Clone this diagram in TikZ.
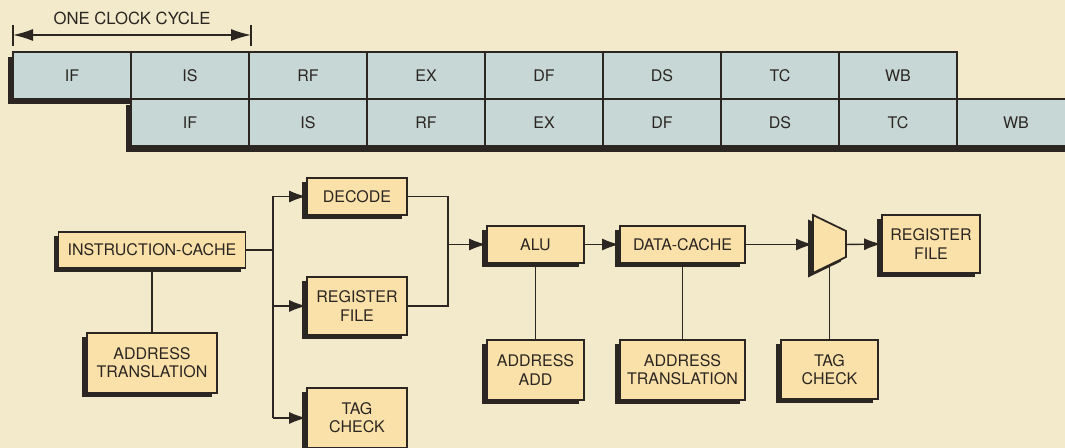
\documentclass[tikz,border=0pt]{standalone}
\usepackage{fontspec}
\setmainfont{TeX Gyre Heros}
\usetikzlibrary{arrows.meta,shadows}
\definecolor{paper}{HTML}{F2EACB}
\definecolor{stagefill}{HTML}{C6D7D6}
\definecolor{boxfill}{HTML}{FAE1AA}
\definecolor{ink}{HTML}{2B2622}
\tikzset{
  >={Latex[length=3.4mm,width=2.4mm]},
  lbl/.style={font=\fontsize{9.1}{10.4}\selectfont, text=ink},
  stage/.style={lbl, draw=ink, fill=stagefill, line width=0.8pt,
                minimum width=2.36cm, minimum height=0.94cm, inner sep=0pt},
  unit/.style={lbl, draw=ink, fill=boxfill, line width=1pt, align=center, inner sep=0pt,
               drop shadow={shadow xshift=-1mm, shadow yshift=-0.9mm, fill=ink, opacity=1}},
  link/.style={draw=ink, line width=0.8pt},
}

\begin{document}
\begin{tikzpicture}[line join=miter]

\useasboundingbox (0,0) rectangle (21.3,8.96);
\clip (0,0) rectangle (21.3,8.96);
\fill[paper] (0,0) rectangle (21.3,8.96);

% ===================== PIPELINE =====================
\node[lbl, font=\fontsize{9.5}{11}\selectfont] (cyc) at (2.64,8.60) {ONE CLOCK CYCLE};
\coordinate (cc0) at (0.26,8.26);
\coordinate (cc1) at (5.02,8.26);
\draw[link] (0.26,8.04) -- (0.26,8.46);
\draw[link] (5.02,8.04) -- (5.02,8.46);
\draw[link, {Latex[length=4mm,width=2.4mm]}-{Latex[length=4mm,width=2.4mm]}] (cc0) -- (cc1);

% ---- row shadows first, cells on top ----
\fill[ink] (0.17,7.81) rectangle (19.05,6.87);
\foreach \st [count=\i from 0] in {IF,IS,RF,EX,DF,DS,TC,WB}
  \node[stage] (a\i) at (1.44+2.36*\i,7.45) {\st};
\fill[ink] (2.52,6.85) rectangle (21.4,5.91);
\foreach \st [count=\i from 1] in {IF,IS,RF,EX,DF,DS,TC,WB}
  \node[stage] (b\i) at (1.44+2.36*\i,6.51) {\st};

% ===================== DATAPATH =====================
\node[unit, minimum width=3.74cm, minimum height=0.72cm] (icache) at (3.04,3.96) {INSTRUCTION-CACHE};
\node[unit, minimum width=2.60cm, minimum height=1.20cm] (atL) at (3.04,1.70) {ADDRESS\\TRANSLATION};
\node[unit, minimum width=2.00cm, minimum height=0.74cm] (decode) at (7.14,5.03) {DECODE};
\node[unit, minimum width=2.00cm, minimum height=1.16cm] (regL) at (7.14,2.84) {REGISTER\\FILE};
\node[unit, minimum width=2.00cm, minimum height=1.20cm] (tagL) at (7.14,0.60) {TAG\\CHECK};

\node[unit, minimum width=1.94cm, minimum height=0.74cm] (alu) at (10.71,4.07) {ALU};
\node[unit, minimum width=2.50cm, minimum height=0.74cm] (dcache) at (13.65,4.07) {DATA-CACHE};
\node[unit, minimum width=1.94cm, minimum height=1.20cm] (addadd) at (10.71,1.56) {ADDRESS\\ADD};
\node[unit, minimum width=2.50cm, minimum height=1.20cm] (atR) at (13.65,1.56) {ADDRESS\\TRANSLATION};
\node[unit, minimum width=1.96cm, minimum height=1.16cm] (regR) at (18.62,4.08) {REGISTER\\FILE};
\node[unit, minimum width=1.94cm, minimum height=1.18cm] (tagR) at (16.59,1.57) {TAG\\CHECK};

% ---- mux, drawn as a trapezoid with its own shadow ----
\fill[ink, shift={(-0.1,-0.09)}] (16.26,4.66) -- (16.92,4.34) -- (16.92,3.82) -- (16.26,3.50) -- cycle;
\draw[fill=boxfill, draw=ink, line width=1pt] (16.26,4.66) -- (16.92,4.34) -- (16.92,3.82) -- (16.26,3.50) -- cycle;
\coordinate (muxin) at (16.26,4.07);
\coordinate (muxout) at (16.92,4.07);
\coordinate (muxs) at (16.59,3.66);

% ---- connectors ----
\coordinate (fork) at (5.46,3.96);
\coordinate (join) at (8.96,4.07);
\draw[link] (icache.east) -- (fork);
\draw[link] (decode -| fork) -- (tagL -| fork);
\draw[link, ->] (decode -| fork) -- (decode.west);
\draw[link, ->] (regL -| fork) -- (regL.west);
\draw[link, ->] (tagL -| fork) -- (tagL.west);
\draw[link] (decode.east) -| (join) |- (regL.east);
\draw[link, ->] (join) -- (alu.west);
\draw[link, ->] (alu.east) -- (dcache.west);
\draw[link, ->] (dcache.east) -- (muxin);
\draw[link, ->] (muxout) -- (regR.west);
\draw[link] (icache.south) -- (atL.north);
\draw[link] (alu.south) -- (addadd.north);
\draw[link] (dcache.south) -- (atR.north);
\draw[link] (tagR.north) -- (muxs);

\end{tikzpicture}
\end{document}
